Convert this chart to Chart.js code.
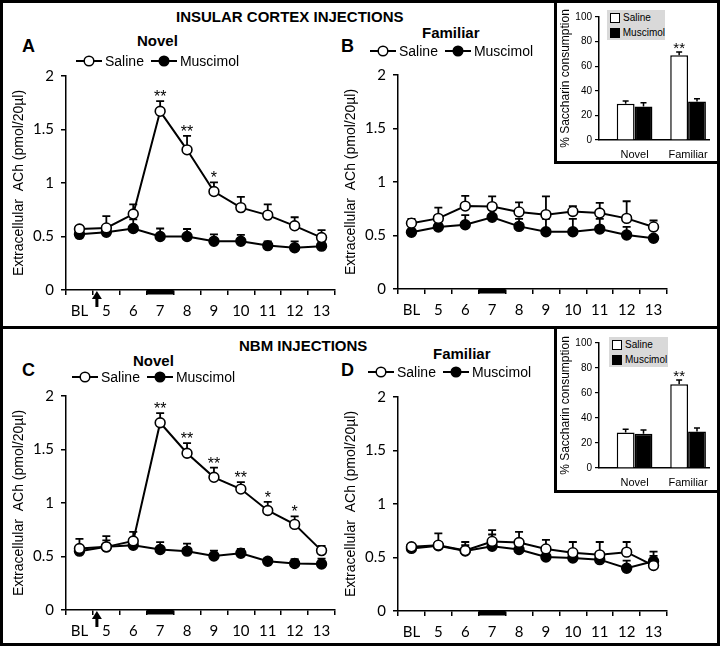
<!DOCTYPE html>
<html><head><meta charset="utf-8">
<script src="https://cdn.jsdelivr.net/npm/chart.js@4.4.0/dist/chart.umd.min.js"></script>
<style>
html,body{margin:0;padding:0;background:#fff;}
#fig{position:relative;width:720px;height:647px;overflow:hidden;font-family:"Liberation Sans",Arial,sans-serif;color:#000;background:#fff;}
.box{position:absolute;border:3px solid #000;box-sizing:border-box;}
.inset{position:absolute;border:3px solid #000;box-sizing:border-box;background:#fff;}
.t{position:absolute;transform:translateY(-50%);line-height:1;white-space:nowrap;color:#000;}
.b{font-weight:bold;}
.cv{position:absolute;}
.leg{position:absolute;transform:translateY(-50%);display:flex;align-items:center;font-size:14px;white-space:nowrap;line-height:1;color:#000;}
.leg svg{display:block;}
.leg span{margin:0 7px 0 3px;}
.ileg{position:absolute;background:#d9d9d9;font-size:10px;line-height:1;color:#000;}
.ileg div{display:flex;align-items:center;height:15px;padding-left:3px;color:#000;}
.sq{display:inline-block;width:8px;height:8px;border:1px solid #000;margin-right:3px;}
</style></head>
<body>
<div id="fig">
  <div class="box" style="left:0;top:0;width:720px;height:329px;"></div>
  <div class="box" style="left:0;top:326px;width:720px;height:320px;"></div>

  <div class="t b" style="left:176px;top:16px;font-size:15px;">INSULAR CORTEX INJECTIONS</div>
  <div class="t b" style="left:22px;top:46px;font-size:18px;">A</div>
  <div class="t b" style="left:137px;top:40px;font-size:15px;">Novel</div>
  <div class="t b" style="left:341px;top:46px;font-size:18px;">B</div>
  <div class="t b" style="left:422px;top:32px;font-size:15px;">Familiar</div>

  <div class="t b" style="left:239px;top:345px;font-size:15px;">NBM INJECTIONS</div>
  <div class="t b" style="left:22px;top:370px;font-size:18px;">C</div>
  <div class="t b" style="left:133px;top:360px;font-size:15px;">Novel</div>
  <div class="t b" style="left:341px;top:370px;font-size:18px;">D</div>
  <div class="t b" style="left:433px;top:353px;font-size:15px;">Familiar</div>

  <canvas class="cv" id="cA" width="345" height="260" style="left:0;top:60px;"></canvas>
  <canvas class="cv" id="cB" width="345" height="260" style="left:332px;top:59px;"></canvas>
  <canvas class="cv" id="cC" width="345" height="260" style="left:0;top:380px;"></canvas>
  <canvas class="cv" id="cD" width="345" height="260" style="left:332px;top:381px;"></canvas>

  <div class="leg" id="legA" style="left:76px;top:61px;"></div>
  <div class="leg" id="legB" style="left:370px;top:51px;"></div>
  <div class="leg" id="legC" style="left:72px;top:377px;"></div>
  <div class="leg" id="legD" style="left:368px;top:372px;"></div>

  <div class="inset" style="left:554px;top:0;width:166px;height:164px;"></div>
  <canvas class="cv" id="iA" width="160" height="158" style="left:557px;top:3px;"></canvas>
  <div class="ileg" style="left:607px;top:10px;width:58px;height:30px;">
    <div><span class="sq" style="background:#fff"></span>Saline</div>
    <div><span class="sq" style="background:#000"></span>Muscimol</div>
  </div>

  <div class="inset" style="left:554px;top:326px;width:166px;height:167px;"></div>
  <canvas class="cv" id="iB" width="160" height="160" style="left:557px;top:329px;"></canvas>
  <div class="ileg" style="left:609px;top:337px;width:59px;height:30px;">
    <div><span class="sq" style="background:#fff"></span>Saline</div>
    <div><span class="sq" style="background:#000"></span>Muscimol</div>
  </div>
</div>
<script>
// ---------- data ----------
const categories = ['BL','5','6','7','8','9','10','11','12','13'];
const yTickLabels = ['0','0.5','1','1.5','2'];
const seriesNames = ['Saline','Muscimol'];
const yTitle = 'Extracellular  ACh (pmol/20\u00b5l)';

// A: insular cortex, novel
const salineA    = [0.57, 0.58, 0.71, 1.67, 1.31, 0.92, 0.77, 0.70, 0.60, 0.49];
const salineAErr = [0.025,0.11, 0.09, 0.095,0.13, 0.085,0.10, 0.10, 0.08, 0.07];
const muscA      = [0.52, 0.54, 0.575,0.50, 0.50, 0.455,0.455,0.415,0.395,0.41];
const muscAErr   = [0.02, 0.03, 0.085,0.075,0.07, 0.065,0.06, 0.04, 0.06, 0.045];
const starsA     = ['','','','**','**','*','','','',''];

// B: insular cortex, familiar
const salineB    = [0.615,0.66, 0.775,0.77, 0.72, 0.695,0.725,0.71, 0.66, 0.58];
const salineBErr = [0.04, 0.10, 0.095,0.095,0.09, 0.17, 0.05, 0.095,0.16, 0.06];
const muscB      = [0.53, 0.58, 0.60, 0.67, 0.585,0.535,0.535,0.56, 0.505,0.475];
const muscBErr   = [0.02, 0.03, 0.09, 0.03, 0.07, 0.12, 0.12, 0.095,0.075,0.02];
const starsB     = ['','','','','','','','','',''];

// C: NBM, novel
const salineC    = [0.575,0.59, 0.645,1.75, 1.465,1.24, 1.13, 0.93, 0.80, 0.555];
const salineCErr = [0.09, 0.10, 0.085,0.09, 0.095,0.09, 0.065,0.08, 0.075,0.045];
const muscC      = [0.55, 0.59, 0.605,0.565,0.55, 0.505,0.53, 0.455,0.435,0.43];
const muscCErr   = [0.05, 0.06, 0.05, 0.07, 0.07, 0.05, 0.04, 0.03, 0.04, 0.05];
const starsC     = ['','','','**','**','**','**','*','*',''];

// D: NBM, familiar
const salineD    = [0.60, 0.615,0.565,0.65, 0.64, 0.58, 0.545,0.525,0.55, 0.425];
const salineDErr = [0.02, 0.11, 0.08, 0.105,0.10, 0.085,0.10, 0.12, 0.095,0.13];
const muscD      = [0.585,0.61, 0.56, 0.605,0.575,0.505,0.495,0.48, 0.40, 0.465];
const muscDErr   = [0.02, 0.03, 0.055,0.11, 0.03, 0.03, 0.03, 0.03, 0.07, 0.05];
const starsD     = ['','','','','','','','','',''];

// insets: % saccharin consumption
const insetCategories = ['Novel','Familiar'];
const insetTickLabels = ['0','20','40','60','80','100'];
const insetTitle = '% Saccharin consumption';
const insetSalineA    = [29.5, 69.0];
const insetSalineAErr = [2.2, 2.6];
const insetMuscA      = [27.3, 31.2];
const insetMuscAErr   = [3.0, 2.4];
const insetStarsA     = ['', '**'];
const insetSalineB    = [28.5, 67.0];
const insetSalineBErr = [2.6, 3.4];
const insetMuscB      = [27.5, 29.3];
const insetMuscBErr   = [3.0, 2.8];
const insetStarsB     = ['', '**'];

// ---------- rendering ----------
Chart.defaults.font.family = "'Liberation Sans', Arial, sans-serif";
Chart.defaults.color = '#000';

function legendHTML(){
  const icon = fill => '<svg width="26" height="12"><line x1="0" y1="6" x2="26" y2="6" stroke="#000" stroke-width="2"/><circle cx="13" cy="6" r="4.8" fill="'+fill+'" stroke="#000" stroke-width="1.5"/></svg>';
  return icon('#fff')+'<span>'+seriesNames[0]+'</span>'+icon('#000')+'<span>'+seriesNames[1]+'</span>';
}
['legA','legB','legC','legD'].forEach(id=>document.getElementById(id).innerHTML=legendHTML());

const extras = {
  id:'extras',
  beforeDatasetsDraw(chart, args, o){
    const ctx = chart.ctx, ys = chart.scales.y;
    chart.data.datasets.forEach((ds,i)=>{
      if(!ds.err) return;
      const meta = chart.getDatasetMeta(i);
      meta.data.forEach((el,j)=>{
        const v = ds.data[j], val = (typeof v==='object') ? v.y : v;
        const top = ys.getPixelForValue(val + ds.err[j]);
        ctx.save();
        ctx.strokeStyle='#000'; ctx.lineWidth=o.lw||1.8;
        ctx.beginPath();
        ctx.moveTo(el.x, el.y); ctx.lineTo(el.x, top);
        ctx.moveTo(el.x-o.cap, top); ctx.lineTo(el.x+o.cap, top);
        ctx.stroke(); ctx.restore();
      });
    });
  },
  afterDraw(chart, args, o){
    const ctx = chart.ctx, ys = chart.scales.y, xs = chart.scales.x;
    const ds = chart.data.datasets[0], meta = chart.getDatasetMeta(0);
    if(o.stars){
      ctx.save(); ctx.fillStyle='#000'; ctx.font = o.starFont; ctx.textAlign='center'; ctx.textBaseline='alphabetic';
      o.stars.forEach((s,j)=>{
        if(!s) return;
        const v = ds.data[j], val=(typeof v==='object')?v.y:v;
        const top = ys.getPixelForValue(val + ds.err[j]);
        ctx.fillText(s, meta.data[j].x, top + o.starDy);
      });
      ctx.restore();
    }
    if(o.markIndex!=null){
      const half = (xs.getPixelForValue(1)-xs.getPixelForValue(0))/2;
      const cx = xs.getPixelForValue(o.markIndex);
      ctx.save(); ctx.fillStyle='#000';
      ctx.fillRect(cx-half, chart.chartArea.bottom-1, 2*half, 5.5);
      ctx.restore();
    }
    if(o.arrow){
      const x = (xs.getPixelForValue(0)+xs.getPixelForValue(1))/2 + 4;
      const tip = chart.chartArea.bottom + 1;
      ctx.save(); ctx.fillStyle='#000';
      ctx.beginPath(); ctx.moveTo(x, tip); ctx.lineTo(x-5, tip+8); ctx.lineTo(x+5, tip+8); ctx.closePath(); ctx.fill();
      ctx.fillRect(x-1.5, tip+6, 3, 10);
      ctx.restore();
    }
  }
};

function lineChart(id, sal, salErr, mus, musErr, stars, novel){
  return new Chart(document.getElementById(id), {
    type:'line',
    data:{
      labels: categories,
      datasets:[
        {label:seriesNames[0], data:sal, err:salErr, borderColor:'#000', borderWidth:2, pointRadius:4.9,
         pointBorderWidth:1.6, pointBackgroundColor:'#fff', pointBorderColor:'#000', tension:0, fill:false},
        {label:seriesNames[1], data:mus, err:musErr, borderColor:'#000', borderWidth:2, pointRadius:4.9,
         pointBorderWidth:1.6, pointBackgroundColor:'#000', pointBorderColor:'#000', tension:0, fill:false}
      ]
    },
    options:{
      responsive:false, animation:false, events:[],
      layout:{padding:{top:8,right:10,left:0,bottom:0}},
      plugins:{legend:{display:false}, tooltip:{enabled:false},
        extras:{cap:4, stars:stars, starFont:'16px "Liberation Sans", Arial', starDy:1, markIndex:3, arrow:novel}},
      scales:{
        x:{type:'category', offset:true,
           grid:{offset:true, drawOnChartArea:false, drawTicks:true, tickLength:5, color:'#000', lineWidth:1.5},
           border:{display:true, color:'#000', width:1.5},
           ticks:{font:{family:'Lato', size:15}, color:'#000', padding:7, maxRotation:0, autoSkip:false},
           afterFit:s=>{s.height=30;}},
        y:{min:0, max:2,
           grid:{drawOnChartArea:false, drawTicks:true, tickLength:5, color:'#000', lineWidth:1.5},
           border:{display:true, color:'#000', width:1.5},
           ticks:{stepSize:0.5, font:{family:'Lato', size:15}, color:'#000', padding:7,
                  callback:(v,i)=>yTickLabels[i]},
           title:{display:true, text:yTitle, font:{size:14}, color:'#000', padding:{top:11,bottom:0}},
           afterFit:s=>{s.width=66;}}
      }
    },
    plugins:[extras]
  });
}

lineChart('cA', salineA, salineAErr, muscA, muscAErr, starsA, true);
lineChart('cB', salineB, salineBErr, muscB, muscBErr, starsB, false);
lineChart('cC', salineC, salineCErr, muscC, muscCErr, starsC, true);
lineChart('cD', salineD, salineDErr, muscD, muscDErr, starsD, false);

function insetChart(id, sal, salErr, mus, musErr, stars, padTop){
  return new Chart(document.getElementById(id), {
    type:'bar',
    data:{datasets:[
      {label:seriesNames[0], data:sal.map((v,i)=>({x:i+1,y:v})), err:salErr, backgroundColor:'#fff', borderColor:'#000', borderWidth:1.5},
      {label:seriesNames[1], data:mus.map((v,i)=>({x:i+1,y:v})), err:musErr, backgroundColor:'#000', borderColor:'#000', borderWidth:1.5}
    ]},
    options:{
      responsive:false, animation:false, events:[],
      layout:{padding:{top:padTop,right:7,left:0,bottom:0}},
      datasets:{bar:{categoryPercentage:0.667, barPercentage:1}},
      plugins:{legend:{display:false}, tooltip:{enabled:false},
        extras:{cap:3, lw:1.5, stars:stars, starFont:'15px "Liberation Sans", Arial', starDy:1}},
      scales:{
        x:{type:'linear', min:0.335, max:2.405, offset:false,
           grid:{display:true, drawOnChartArea:false, drawTicks:false},
           border:{display:true, color:'#000', width:1.5},
           afterBuildTicks:s=>{s.ticks=[{value:1},{value:2}];},
           ticks:{font:{size:11}, color:'#000', padding:8, maxRotation:0,
                  callback:(v)=>insetCategories[Math.round(v)-1]},
           afterFit:s=>{s.height=21;}},
        y:{min:0, max:100,
           grid:{drawOnChartArea:false, drawTicks:true, tickLength:4, color:'#000', lineWidth:1.2},
           border:{display:true, color:'#000', width:1.5},
           ticks:{stepSize:20, font:{size:10}, color:'#000', padding:3, callback:(v,i)=>insetTickLabels[i]},
           title:{display:true, text:insetTitle, font:{size:12}, color:'#000', padding:{top:1,bottom:0}},
           afterFit:s=>{s.width=42;}}
      }
    },
    plugins:[extras]
  });
}
insetChart('iA', insetSalineA, insetSalineAErr, insetMuscA, insetMuscAErr, insetStarsA, 14);
insetChart('iB', insetSalineB, insetSalineBErr, insetMuscB, insetMuscBErr, insetStarsB, 14);
</script>
</body></html>
